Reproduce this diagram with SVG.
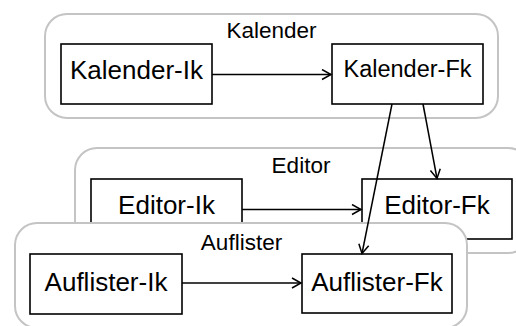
<svg xmlns="http://www.w3.org/2000/svg" width="516" height="326" viewBox="0 0 516 326">
<style>
.cl{fill:#fff;stroke:#c4c4c4;stroke-width:2}
.nd{fill:#fff;stroke:#000;stroke-width:1.6}
.t{font-family:"Liberation Sans",Arial,sans-serif;fill:#000;text-anchor:middle}
.ct{font-size:22.5px}
.nt{font-size:26px}
.e{fill:none;stroke:#000;stroke-width:1.5}
</style>
<defs>
<marker id="arr" markerWidth="12" markerHeight="12" refX="10" refY="6" orient="auto" markerUnits="userSpaceOnUse">
<path d="M1,1 L10,6 L1,11" fill="none" stroke="#000" stroke-width="1.5"/>
</marker>
</defs>
<g id="cluster-kalender">
<rect class="cl" x="45" y="14" width="453" height="104" rx="22"/>
<text class="t ct" x="271.5" y="38">Kalender</text>
</g>
<g id="kalender-ik">
<rect class="nd" x="61" y="44" width="151" height="60"/>
<text class="t nt" x="136.5" y="79">Kalender-Ik</text>
</g>
<g id="kalender-fk">
<rect class="nd" x="332" y="44" width="151" height="60"/>
<text class="t" style="font-size:23.5px" x="407.5" y="77">Kalender-Fk</text>
</g>
<g id="cluster-editor">
<rect class="cl" x="75" y="148" width="455" height="105" rx="22"/>
<text class="t ct" x="301" y="173">Editor</text>
</g>
<g id="editor-ik">
<rect class="nd" x="91" y="179" width="151" height="60"/>
<text class="t nt" x="166.5" y="214">Editor-Ik</text>
</g>
<g id="editor-fk">
<rect class="nd" x="362" y="179" width="150" height="60"/>
<text class="t nt" x="437" y="214">Editor-Fk</text>
</g>
<g id="cluster-auflister">
<rect class="cl" x="15" y="223" width="452" height="105" rx="22"/>
<text class="t ct" x="241.5" y="250">Auflister</text>
</g>
<g id="auflister-ik">
<rect class="nd" x="30" y="254" width="152" height="60"/>
<text class="t nt" x="106" y="291">Auflister-Ik</text>
</g>
<g id="auflister-fk">
<rect class="nd" x="302" y="254" width="150" height="59"/>
<text class="t nt" x="377" y="291">Auflister-Fk</text>
</g>
<g id="connectors">
<line class="e" x1="212" y1="74.5" x2="331" y2="74.5" marker-end="url(#arr)"/>
<line class="e" x1="423" y1="104" x2="437" y2="178.5" marker-end="url(#arr)"/>
<line class="e" x1="392" y1="104" x2="362" y2="253.5" marker-end="url(#arr)"/>
<line class="e" x1="242" y1="209.5" x2="361" y2="209.5" marker-end="url(#arr)"/>
<line class="e" x1="182" y1="283" x2="301" y2="283" marker-end="url(#arr)"/>
</g>
</svg>
